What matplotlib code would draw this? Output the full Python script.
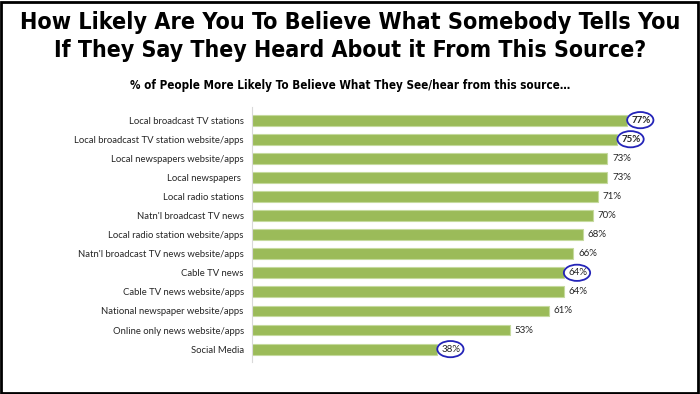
import matplotlib.pyplot as plt
from matplotlib.patches import Ellipse, Rectangle

# data
sources = ["Local broadcast TV stations", "Local broadcast TV station website/apps",
           "Local newspapers website/apps", "Local newspapers ", "Local radio stations",
           "Natn'l broadcast TV news", "Local radio station website/apps",
           "Natn'l broadcast TV news website/apps", "Cable TV news",
           "Cable TV news website/apps", "National newspaper website/apps",
           "Online only news website/apps", "Social Media"]
pct = [77, 75, 73, 73, 71, 70, 68, 66, 64, 64, 61, 53, 38]
circled = [0, 1, 8, 12]
bold = [0, 1]

fig = plt.figure(figsize=(7, 3.94), dpi=100)
ax = fig.add_axes([0.36, 0.080, 0.626, 0.649])

y = list(range(len(sources)))
ax.barh(y, pct, height=0.57, color='#9BBB59', edgecolor='#C5DA9E', linewidth=0.8)
ax.set_xlim(0, 90)
ax.set_ylim(12.7, -0.7)
ax.set_yticks(y)
ax.set_yticklabels(sources, fontsize=6.8, color='#262626', family='Lato')
ax.tick_params(axis='y', length=0, pad=6)
ax.set_xticks([])
for s in ['top', 'right', 'bottom']:
    ax.spines[s].set_visible(False)
ax.spines['left'].set_color('#D9D9D9')

for i, v in enumerate(pct):
    ax.text(v + 1.0, i, f"{v}%", va='center', ha='left', fontsize=7, color='#262626',
            family='Lato', fontweight='bold' if i in bold else 'normal')
    if i in circled:
        ax.add_patch(Ellipse((v + 2.75, i), 5.4, 0.85, fill=False,
                             edgecolor='#2424B8', linewidth=1.3, clip_on=False))

fig.text(0.5, 0.944, "How Likely Are You To Believe What Somebody Tells You",
         ha='center', va='center', fontsize=16.75, fontweight='bold',
         family='DejaVu Sans', fontstretch='condensed')
fig.text(0.5, 0.873, "If They Say They Heard About it From This Source?",
         ha='center', va='center', fontsize=16.6, fontweight='bold',
         family='DejaVu Sans', fontstretch='condensed')
fig.text(0.5, 0.782, "% of People More Likely To Believe What They See/hear from this source…",
         ha='center', va='center', fontsize=8.4, fontweight='bold',
         family='DejaVu Sans', fontstretch='condensed')

fig.patches.append(Rectangle((0.002, 0.003), 0.995, 0.993, transform=fig.transFigure,
                             fill=False, edgecolor='black', linewidth=2))

fig.savefig('out.png', dpi=100)
